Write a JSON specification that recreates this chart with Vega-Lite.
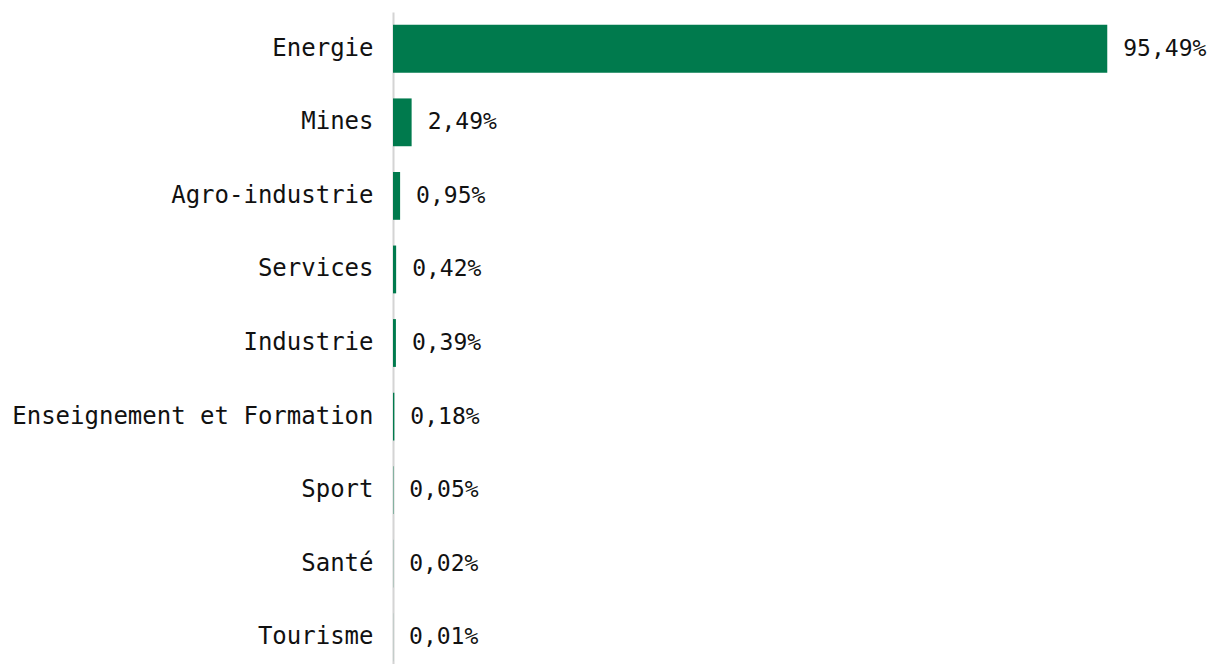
{
  "$schema": "https://vega.github.io/schema/vega-lite/v6.json",
  "autosize": {"type": "none"},
  "padding": {"left": 393, "top": 12, "right": 72, "bottom": 0},
  "width": 748,
  "height": 662,
  "background": "white",
  "data": {"values": [
    {"sector": "Energie", "value": 95.49},
    {"sector": "Mines", "value": 2.49},
    {"sector": "Agro-industrie", "value": 0.95},
    {"sector": "Services", "value": 0.42},
    {"sector": "Industrie", "value": 0.39},
    {"sector": "Enseignement et Formation", "value": 0.18},
    {"sector": "Sport", "value": 0.05},
    {"sector": "Santé", "value": 0.02},
    {"sector": "Tourisme", "value": 0.01}
  ]},
  "transform": [
    {"calculate": "replace(format(datum.value, '.2f'), '.', ',') + '%'", "as": "label"}
  ],
  "encoding": {
    "y": {"field": "sector", "type": "nominal", "sort": null,
      "scale": {"paddingInner": 0.35, "paddingOuter": 0.175},
      "axis": {"title": null, "ticks": false, "labelFont": "DejaVu Sans Mono", "labelFontSize": 24, "labelColor": "#111", "labelPadding": 20, "domainColor": "#d4d4d4", "domainWidth": 2, "labelLimit": 600}},
    "x": {"field": "value", "type": "quantitative", "scale": {"domain": [0, 100]}, "axis": null}
  },
  "layer": [
    {"mark": {"type": "bar", "color": "#007A4D"}},
    {"mark": {"type": "text", "align": "left", "baseline": "middle", "dx": 16, "font": "DejaVu Sans Mono", "fontSize": 23, "color": "#111"},
     "encoding": {"text": {"field": "label"}}}
  ],
  "config": {"view": {"stroke": null}}
}
